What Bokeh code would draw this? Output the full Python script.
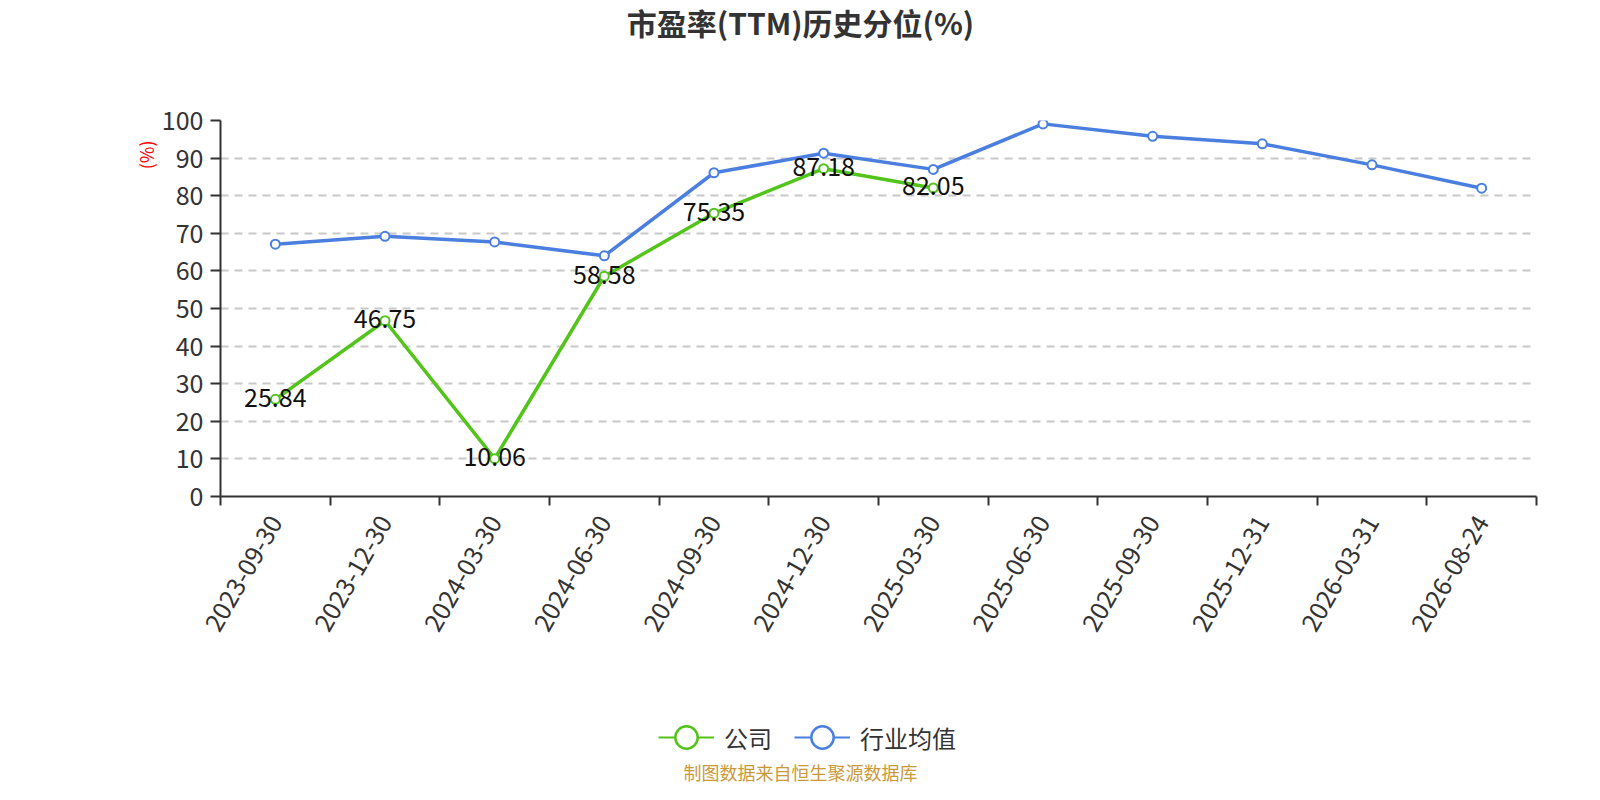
import math
from bokeh.plotting import figure
from bokeh.layouts import column
from bokeh.models import (Range1d, FixedTicker, Title, Label, Legend, LegendItem, ColumnDataSource)
from bokeh.core.properties import value
from bokeh.embed import file_html
from bokeh.resources import INLINE

# ---- data ----
dates = ["2023-09-30", "2023-12-30", "2024-03-30", "2024-06-30", "2024-09-30", "2024-12-30",
         "2025-03-30", "2025-06-30", "2025-09-30", "2025-12-31", "2026-03-31", "2026-08-24"]
company = [25.84, 46.75, 10.06, 58.58, 75.35, 87.18, 82.05]
industry = [67.1, 69.2, 67.7, 64.0, 86.1, 91.3, 87.0, 99.1, 95.8, 93.8, 88.2, 82.0]
y_ticks = [0, 10, 20, 30, 40, 50, 60, 70, 80, 90, 100]
title_text = "市盈率(TTM)历史分位(%)"
series_names = ["公司", "行业均值"]
y_unit = "(%)"
footer_text = "制图数据来自恒生聚源数据库"

FONT = "Noto Sans CJK SC"
GREEN = "#52c41a"
BLUE = "#4a7fe0"
W = 1584
LEFT = 220   # frames of the stacked figures are aligned to the main plot's frame

n = len(dates)
x_ind = [i + 0.5 for i in range(len(industry))]
x_com = [i + 0.5 for i in range(len(company))]
src_i = ColumnDataSource(dict(x=x_ind, y=industry))
src_c = ColumnDataSource(dict(x=x_com, y=company, t=[f"{v:.2f}" for v in company]))


def blank(h, yr=(0, 1)):
    f = figure(width=W, height=h, output_backend="svg", toolbar_location=None,
               x_range=Range1d(0, W), y_range=Range1d(*yr),
               x_axis_type=None, y_axis_type=None,
               min_border_left=0, min_border_right=0, min_border_top=0, min_border_bottom=0)
    f.outline_line_color = None
    f.background_fill_color = "white"
    f.border_fill_color = "white"
    return f


# ---- top strip: title ----
top = blank(100)
top.add_layout(Label(x=800 - LEFT, y=79, x_units="screen", y_units="screen", text=title_text,
                     text_font=FONT, text_font_size="30px", text_font_style="bold",
                     text_color="#333333", text_align="center", text_baseline="middle"))

# ---- main chart ----
p = figure(width=W, height=546, output_backend="svg", toolbar_location=None,
           x_range=Range1d(0, n), y_range=Range1d(0, 100),
           min_border_left=LEFT, min_border_right=48, min_border_top=20, min_border_bottom=150)
p.outline_line_color = None
p.background_fill_color = "white"
p.border_fill_color = "white"

xa = p.xaxis[0]
xa.ticker = FixedTicker(ticks=x_ind, minor_ticks=list(range(n + 1)))
xa.major_label_overrides = {x: d for x, d in zip(x_ind, dates)}
xa.major_label_orientation = math.pi / 3
xa.major_tick_line_color = None
xa.major_tick_out = 0
xa.major_tick_in = 0
xa.minor_tick_out = 9
xa.minor_tick_in = 0
xa.minor_tick_line_color = "#333333"
xa.minor_tick_line_width = 2
xa.axis_line_color = "#333333"
xa.axis_line_width = 2
xa.major_label_text_font = FONT
xa.major_label_text_font_size = "25px"
xa.major_label_text_color = "#333333"
xa.major_label_standoff = 12

ya = p.yaxis[0]
ya.ticker = FixedTicker(ticks=y_ticks)
ya.major_tick_out = 10
ya.major_tick_in = 0
ya.minor_tick_line_color = None
ya.major_tick_line_color = "#333333"
ya.major_tick_line_width = 2
ya.axis_line_color = "#333333"
ya.axis_line_width = 2
ya.major_label_text_font = FONT
ya.major_label_text_font_size = "25px"
ya.major_label_text_color = "#333333"
ya.major_label_standoff = 7

p.xgrid.grid_line_color = None
p.ygrid.ticker = FixedTicker(ticks=y_ticks[1:])
p.ygrid.grid_line_color = "#c8c8c8"
p.ygrid.grid_line_dash = "8 6"
p.ygrid.grid_line_width = 2

p.line("x", "y", source=src_i, line_color=BLUE, line_width=3.5)
p.scatter("x", "y", source=src_i, size=9, fill_color="white", line_color=BLUE, line_width=2)
p.line("x", "y", source=src_c, line_color=GREEN, line_width=3.5)
p.scatter("x", "y", source=src_c, size=9, fill_color="white", line_color=GREEN, line_width=2)
p.text("x", "y", text="t", source=src_c, text_font=value(FONT), text_font_size="25px",
       text_color="#111111", text_align="center", text_baseline="middle", y_offset=-2)

p.add_layout(Title(text=y_unit, align="right", offset=20, standoff=0,
                   text_font=FONT, text_font_size="18px", text_font_style="normal",
                   text_color="red"), "left")

# ---- bottom strip: legend + source note ----
bot = blank(138, yr=(1000, 1001))   # series proxies drawn out of view; only legend icons show
lg_g_line = bot.line("x", "y", source=src_c, line_color=GREEN, line_width=2)
lg_g_pt = bot.scatter("x", "y", source=src_c, fill_color="white", line_color=GREEN, line_width=2.5)
lg_b_line = bot.line("x", "y", source=src_i, line_color=BLUE, line_width=2)
lg_b_pt = bot.scatter("x", "y", source=src_i, fill_color="white", line_color=BLUE, line_width=2.5)
legend = Legend(items=[LegendItem(label=series_names[0], renderers=[lg_g_line, lg_g_pt]),
                       LegendItem(label=series_names[1], renderers=[lg_b_line, lg_b_pt])],
                orientation="horizontal", location=(658 - LEFT, 18),
                glyph_width=56, glyph_height=58, label_standoff=10, spacing=22,
                padding=0, margin=0, border_line_color=None, background_fill_alpha=0,
                label_text_font=FONT, label_text_font_size="24px", label_text_color="#333333")
bot.add_layout(legend, "center")
bot.add_layout(Label(x=800 - LEFT, y=13, x_units="screen", y_units="screen", text=footer_text,
                     text_font=FONT, text_font_size="18px", text_color="#c99a3a",
                     text_align="center", text_baseline="middle"))

layout = column(top, p, bot, spacing=0)
open("out.html", "w").write(file_html(layout, INLINE))
